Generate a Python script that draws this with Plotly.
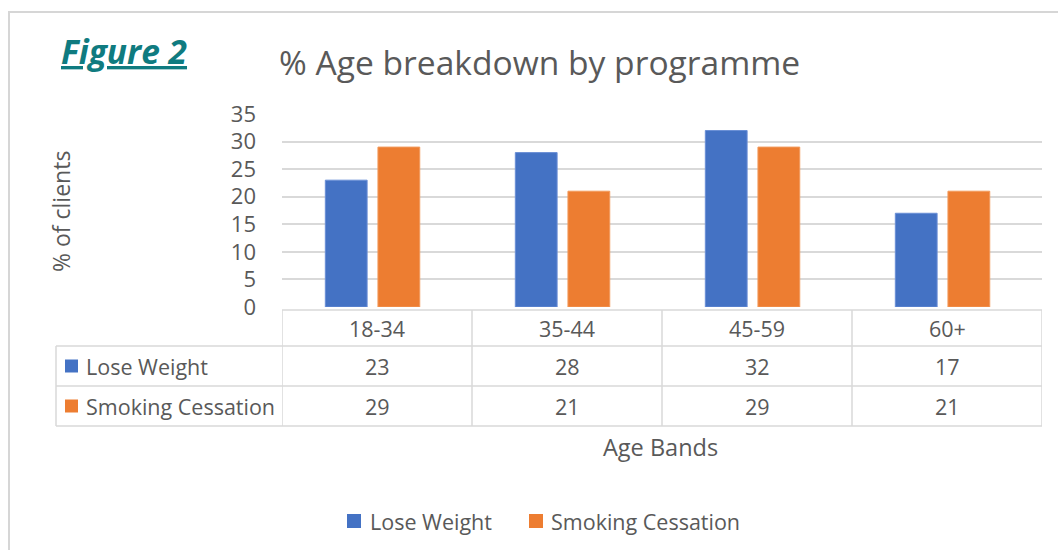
import plotly.graph_objects as go

# ---- data ----
categories = ["18-34", "35-44", "45-59", "60+"]
series_names = ["Lose Weight", "Smoking Cessation"]
lose_weight = [23, 28, 32, 17]
smoking_cessation = [29, 21, 29, 21]
y_ticks = [0, 5, 10, 15, 20, 25, 30, 35]

colors = ["#4472C4", "#ED7D31"]
edge_colors = ["#6A8FD6", "#F29A5C"]
series_values = [lose_weight, smoking_cessation]
bar_offsets = [-0.272, 0.005]
bar_width = 0.22

W, H = 1058, 550
def px(x):
    return x / W
def py(y):
    return 1 - y / H

TXT = "#595959"
GRID = "#D9D9D9"
FONT = "Open Sans"
FS = 21.5

fig = go.Figure()
for name, vals, c, ec, off in zip(series_names, series_values, colors, edge_colors, bar_offsets):
    fig.add_trace(go.Bar(x=categories, y=vals, name=name, offset=off, width=bar_width,
                         marker=dict(color=c, line=dict(color=ec, width=1))))

shapes = []
annotations = []

def ann(x, y, text, size, xanchor="center", xref="paper", color=TXT, family=FONT, **kw):
    annotations.append(dict(x=x, xref=xref, y=y, yref="paper", text=text, showarrow=False,
                            xanchor=xanchor, yanchor="middle",
                            font=dict(family=family, size=size, color=color), **kw))

# outer frame lines
shapes.append(dict(type="line", xref="paper", yref="paper", x0=px(8), x1=px(1058), y0=py(12), y1=py(12),
                   line=dict(color="#D6D6D6", width=2)))
shapes.append(dict(type="line", xref="paper", yref="paper", x0=px(9), x1=px(9), y0=py(12), y1=py(550),
                   line=dict(color="#D6D6D6", width=2)))

# data table lines
tbl_top, r1, r2, r3 = 310, 346, 386, 426
tbl_left = 56
line_style = dict(color=GRID, width=1.5)
shapes.append(dict(type="line", xref="x", yref="paper", x0=-0.5, x1=len(categories) - 0.5,
                   y0=py(tbl_top), y1=py(tbl_top), line=line_style))
for yy in (r1, r2, r3):
    shapes.append(dict(type="line", xref="paper", yref="paper", x0=px(tbl_left), x1=px(1042),
                       y0=py(yy), y1=py(yy), line=line_style))
for i in range(len(categories) + 1):
    shapes.append(dict(type="line", xref="x", yref="paper", x0=i - 0.5, x1=i - 0.5,
                       y0=py(tbl_top), y1=py(r3), line=line_style))
shapes.append(dict(type="line", xref="paper", yref="paper", x0=px(tbl_left), x1=px(tbl_left),
                   y0=py(r1), y1=py(r3), line=line_style))

# header labels
for cat in categories:
    ann(cat, py((tbl_top + r1) / 2), cat, FS, xref="x")
# rows
row_centers = [(r1 + r2) / 2, (r2 + r3) / 2]
for name, vals, c, yc in zip(series_names, series_values, colors, row_centers):
    shapes.append(dict(type="rect", xref="paper", yref="paper", x0=px(65), x1=px(78),
                       y0=py(yc + 6.5), y1=py(yc - 6.5), fillcolor=c, line=dict(width=0)))
    ann(px(84), py(yc), name, FS, xanchor="left")
    for cat, v in zip(categories, vals):
        ann(cat, py(yc), str(v), FS, xref="x")

# titles
ann(px(277), py(62), "% Age breakdown by programme", 33.6, xanchor="left")
ann(px(59), py(51), "<b><i><u>Figure 2</u></i></b>", 33.5, xanchor="left", color="#0F7B80")
ann(px(61), py(212), "% of clients", 23, textangle=-90)
ann(px(660), py(447), "Age Bands", 23.5)

# custom legend (bottom)
leg_y = 521
leg_items = [(347, 368), (529, 549)]
for name, c, (sx, tx) in zip(series_names, colors, leg_items):
    shapes.append(dict(type="rect", xref="paper", yref="paper", x0=px(sx), x1=px(sx + 14),
                       y0=py(leg_y + 7), y1=py(leg_y - 7), fillcolor=c, line=dict(width=0)))
    ann(px(tx), py(leg_y), name, FS, xanchor="left")

fig.update_layout(
    width=W, height=H,
    margin=dict(l=0, r=0, t=0, b=0, autoexpand=False),
    paper_bgcolor="white", plot_bgcolor="white",
    barmode="group",
    shapes=shapes, annotations=annotations,
    showlegend=False,
    xaxis=dict(domain=[px(282), px(1042)], range=[-0.5, len(categories) - 0.5],
               showticklabels=False, showgrid=False, zeroline=False, showline=False, fixedrange=True),
    yaxis=dict(domain=[py(307), py(114)], range=[0, 35], tickvals=y_ticks,
               showgrid=True, gridcolor=GRID, gridwidth=1.5, zeroline=False,
               ticklabelstandoff=25,
               tickfont=dict(family=FONT, size=22, color=TXT), fixedrange=True),
    font=dict(family=FONT, color=TXT),
)

fig.write_html("out.html")
